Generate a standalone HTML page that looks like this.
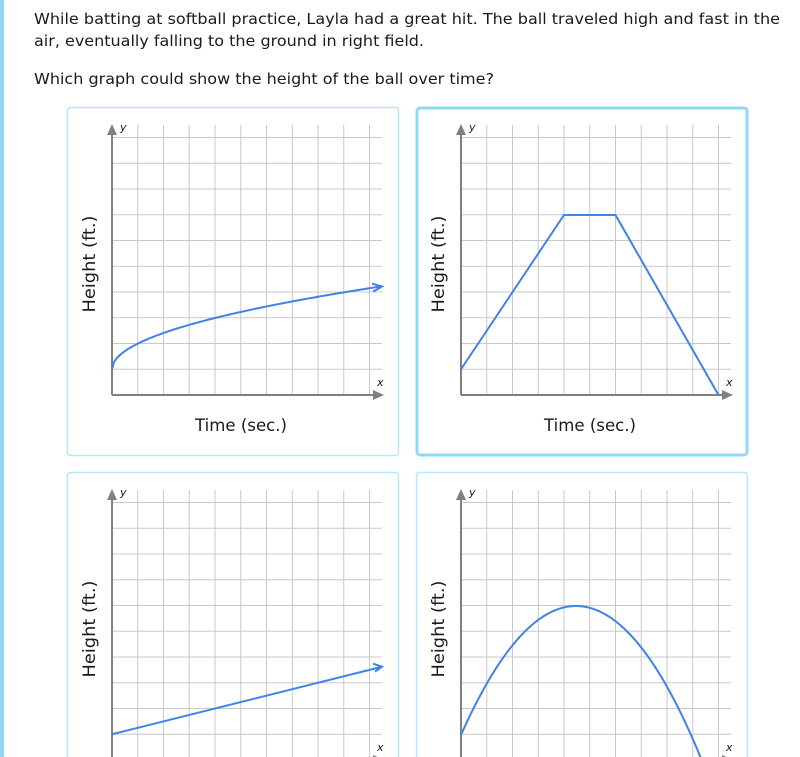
<!DOCTYPE html>
<html><head><meta charset="utf-8"><style>
html,body{margin:0;padding:0;background:#fff;width:800px;height:757px;overflow:hidden}
svg{display:block;overflow:hidden}
text{font-family:"DejaVu Sans","Liberation Sans",sans-serif;fill:#1a1a1a}
</style></head><body>
<svg id="s" width="800" height="757" viewBox="0 0 800 757" xmlns="http://www.w3.org/2000/svg">
<rect x="0" y="0" width="4" height="757" fill="#8fd8f8"/>
<text x="34" y="24" font-size="15" textLength="746" lengthAdjust="spacingAndGlyphs">While batting at softball practice, Layla had a great hit. The ball traveled high and fast in the</text>
<text x="34" y="46" font-size="15" textLength="390" lengthAdjust="spacingAndGlyphs">air, eventually falling to the ground in right field.</text>
<text x="34" y="84" font-size="15" textLength="460" lengthAdjust="spacingAndGlyphs">Which graph could show the height of the ball over time?</text>
<g id="g"></g>
</svg>
<script>
var g=document.getElementById('g'),h='';
function panel(cx,cy,sel){
  var ox=cx+45, oy=cy+288, s=25.75;
  h+='<rect x="'+(cx+(sel?1:0.5))+'" y="'+(cy+(sel?1:0.5))+'" width="'+(sel?330:331)+'" height="'+(sel?347:348)+'" rx="3" fill="#fff" stroke="'+(sel?'#8fd8f8':'#b3e7fb')+'" stroke-width="'+(sel?3:1.5)+'"/>';
  for(var i=1;i<=10;i++){var x=ox+i*s;h+='<line x1="'+x+'" y1="'+(oy-270)+'" x2="'+x+'" y2="'+oy+'" stroke="#c8c8c8" stroke-width="1"/>';}
  for(var j=1;j<=10;j++){var y=oy-j*s;h+='<line x1="'+ox+'" y1="'+y+'" x2="'+(ox+270)+'" y2="'+y+'" stroke="#c8c8c8" stroke-width="1"/>';}
  h+='<line x1="'+ox+'" y1="'+oy+'" x2="'+(ox+263)+'" y2="'+oy+'" stroke="#808080" stroke-width="2"/>';
  h+='<line x1="'+ox+'" y1="'+oy+'" x2="'+ox+'" y2="'+(oy-262)+'" stroke="#808080" stroke-width="2"/>';
  h+='<polygon points="'+(ox+272)+','+oy+' '+(ox+261)+','+(oy-5)+' '+(ox+261)+','+(oy+5)+'" fill="#808080"/>';
  h+='<polygon points="'+ox+','+(oy-271)+' '+(ox-5)+','+(oy-260)+' '+(ox+5)+','+(oy-260)+'" fill="#808080"/>';
  h+='<text x="'+(ox+8)+'" y="'+(oy-264)+'" font-size="11" font-style="italic">y</text>';
  h+='<text x="'+(ox+265)+'" y="'+(oy-9)+'" font-size="11" font-style="italic">x</text>';
  h+='<text x="'+(ox+83)+'" y="'+(oy+36)+'" font-size="16.5" textLength="92" lengthAdjust="spacingAndGlyphs">Time (sec.)</text>';
  h+='<text transform="translate('+(cx+28)+','+(cy+157)+') rotate(-90)" x="-48.5" y="0" font-size="16.5" textLength="97" lengthAdjust="spacingAndGlyphs">Height (ft.)</text>';
  return [ox,oy];
}
var o;
var blue='stroke="#3f83e8" stroke-width="2" fill="none"';
o=panel(67,107,false);
var d='M'+o[0]+','+(o[1]-25.75);
for(var x=0;x<=268;x+=2){d+=' L'+(o[0]+x)+','+(o[1]-25.75-5.05*Math.sqrt(x));}
h+='<path d="'+d+'" '+blue+'/>';
var ex=o[0]+268, ey=o[1]-25.75-5.05*Math.sqrt(268);
h+='<polyline points="'+(ex-8)+','+(ey-3)+' '+(ex+2)+','+ey+' '+(ex-7)+','+(ey+5)+'" '+blue+'/>';
o=panel(416,107,true);
h+='<polyline points="'+o[0]+','+(o[1]-25.75)+' '+(o[0]+103)+','+(o[1]-180)+' '+(o[0]+154.5)+','+(o[1]-180)+' '+(o[0]+257.5)+','+o[1]+'" '+blue+'/>';
o=panel(67,472,false);
h+='<line x1="'+o[0]+'" y1="'+(o[1]-25.75)+'" x2="'+(o[0]+269)+'" y2="'+(o[1]-93)+'" '+blue+'/>';
ex=o[0]+270;ey=o[1]-93.3;
h+='<polyline points="'+(ex-9)+','+(ey-3)+' '+ex+','+ey+' '+(ex-7)+','+(ey+5)+'" '+blue+'/>';
o=panel(416,472,false);
d='M'+o[0]+','+(o[1]-25.75);
for(var x=0;x<=260;x+=2){d+=' L'+(o[0]+x)+','+(606+0.00975*Math.pow(o[0]+x-576,2));}
h+='<path d="'+d+'" '+blue+'/>';
g.innerHTML=h;
</script>
</body></html>
